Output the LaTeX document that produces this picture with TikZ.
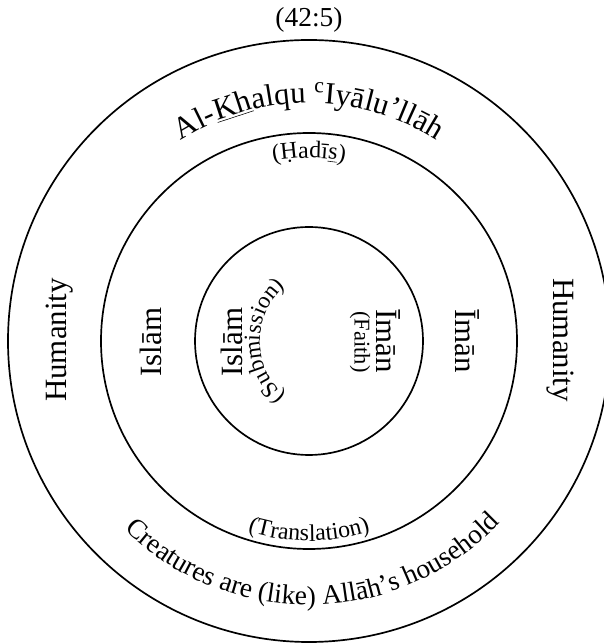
\documentclass[tikz,border=0pt]{standalone}
\usepackage{fontspec}
\setmainfont{Liberation Serif}
\usetikzlibrary{decorations.text,calc}

\begin{document}
\begin{tikzpicture}[x=0.025cm,y=0.025cm,
  ring/.style={draw, line width=1.2pt},
  biglabel/.style={inner sep=0pt, font=\fontsize{22}{26}\selectfont},
  smalllabel/.style={inner sep=0pt, font=\fontsize{16}{19}\selectfont},
  reflabel/.style={inner sep=0pt, font=\fontsize{19.5}{23}\selectfont},
  arctext/.style={decorate, decoration={text along path, text align=center, #1}}]
\useasboundingbox (0,0) rectangle (604,644);
\coordinate (O) at (309,303);

% three concentric rings
\draw[ring] (O) circle[radius=301];
\draw[ring] (O) circle[radius=208];
\draw[ring] (O) circle[radius=114];

% reference above the rings
\node[reflabel] (ref) at (309,624) {(42:5)};

% outer ring
\path[arctext={text={|\fontsize{22}{26}\selectfont|Al-{\underline{Kh}}alqu {\textsuperscript{c}}Iyālu’llāh}}]
  ($(O)+(160:238)$) arc[start angle=160, end angle=20, radius=238];
\path[arctext={text={|\fontsize{19.5}{23}\selectfont|Creatures are (like) Allāh’s household}}]
  ($(O)+(196:264)$) arc[start angle=196, end angle=346, radius=264];
\node[biglabel, rotate=90] (humL) at (60,304) {Humanity};
\node[biglabel, rotate=-90] (humR) at (560,304) {Humanity};

% middle ring
\path[arctext={text={|\fontsize{17}{20}\selectfont|(Ḥadī{\underline{s}})}}]
  ($(O)+(130:183)$) arc[start angle=130, end angle=50, radius=183];
\path[arctext={text={|\fontsize{17}{20}\selectfont|(Translation)}}]
  ($(O)+(230:200)$) arc[start angle=230, end angle=310, radius=200];
\node[biglabel, rotate=90] (islamM) at (151,302) {Islām};
\node[biglabel, rotate=-90] (imanM) at (467,303) {Īmān};

% inner circle
\node[biglabel, rotate=90] (islamI) at (232,302) {Islām};
\node[biglabel, rotate=-90] (imanI) at (388,303) {Īmān};
\coordinate (S) at (330,303);
\path[arctext={text={|\fontsize{16.5}{19}\selectfont|(Submission)}}]
  ($(S)+(232:70)$) arc[start angle=232, end angle=128, radius=70];
\node[smalllabel, rotate=-90] (faith) at (360,302) {(Faith)};
\end{tikzpicture}
\end{document}
